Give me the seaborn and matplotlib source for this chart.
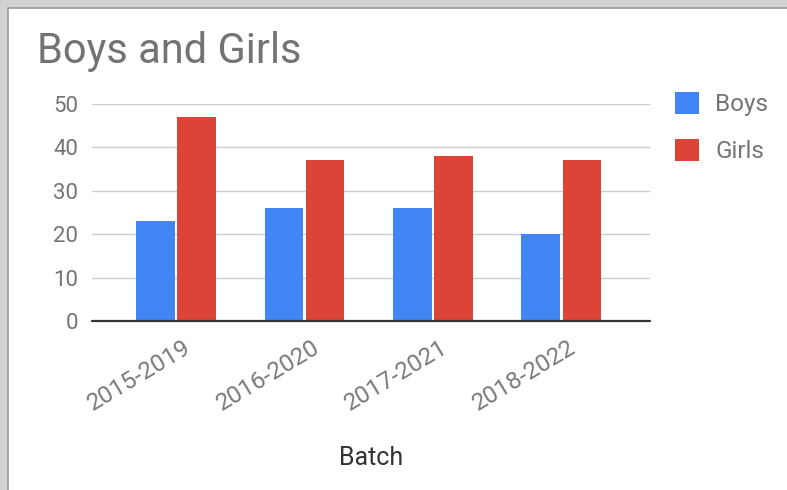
import matplotlib
matplotlib.use('Agg')
import matplotlib.pyplot as plt
import matplotlib.transforms as mtransforms
import seaborn as sns
import pandas as pd
from matplotlib.patches import Rectangle

# data
batches = ['2015-2019', '2016-2020', '2017-2021', '2018-2022']
boys = [23, 26, 26, 20]
girls = [47, 37, 38, 37]
groups = ['Boys', 'Girls']
colores = {'Boys': '#4285F4', 'Girls': '#DB4437'}

df = pd.DataFrame({
    'Batch': batches * 2,
    'Count': boys + girls,
    'Group': ['Boys'] * len(batches) + ['Girls'] * len(batches),
})

sns.set_theme(style='white')
plt.rcParams['font.family'] = ['Roboto', 'DejaVu Sans']

W, H = 787, 490
fig = plt.figure(figsize=(W / 100, H / 100), dpi=100)
fig.patch.set_facecolor('#d2d2d2')
# white card like the screenshot
fig.patches.append(Rectangle((8 / W, -0.01), 1.0, 1 - 8 / H + 0.01, transform=fig.transFigure,
                             facecolor='white', edgecolor='#9a9a9a', lw=1.2, zorder=-1))

ax = fig.add_axes([92 / W, 1 - 321 / H, (650 - 92) / W, (321 - 104) / H])
ax.set_facecolor('none')

sns.barplot(data=df, x='Batch', y='Count', hue='Group', hue_order=groups,
            palette=colores, width=0.64, gap=0.06, saturation=1,
            linewidth=0, ax=ax, zorder=3)

ax.set_ylim(0, 50)
ax.set_yticks(range(0, 51, 10))
ax.set_xlim(-0.654, 3.69)
ax.yaxis.grid(True, color='#cccccc', lw=1)
ax.set_axisbelow(True)
ax.axhline(0, color='#333333', lw=1.6, zorder=4, clip_on=False)
for s in ax.spines.values():
    s.set_visible(False)

ax.tick_params(axis='y', length=0, pad=10, labelsize=16, labelcolor='#757575')
ax.tick_params(axis='x', length=0, pad=11, labelsize=17.5, labelcolor='#7a7a7a')
desplaza = mtransforms.ScaledTranslation(7 / 100, 0, fig.dpi_scale_trans)
for lbl in ax.get_xticklabels():
    lbl.set_rotation(31)
    lbl.set_ha('right')
    lbl.set_rotation_mode('anchor')
    lbl.set_transform(lbl.get_transform() + desplaza)

ax.set_xlabel('Batch', fontsize=18, color='#333333', labelpad=22)
ax.set_ylabel('')

ax.legend(loc='upper left', bbox_to_anchor=(675 / W, 1 - 92 / H), bbox_transform=fig.transFigure,
          frameon=False, borderpad=0, borderaxespad=0,
          handlelength=1.0, handleheight=1.0, handletextpad=0.65,
          labelspacing=0.95, fontsize=17.5, labelcolor='#757575')

fig.text(37 / W, 1 - 52 / H, 'Boys and Girls', fontsize=30, color='#737373', va='center', ha='left')

fig.savefig('out.png', dpi=100, facecolor=fig.get_facecolor())
